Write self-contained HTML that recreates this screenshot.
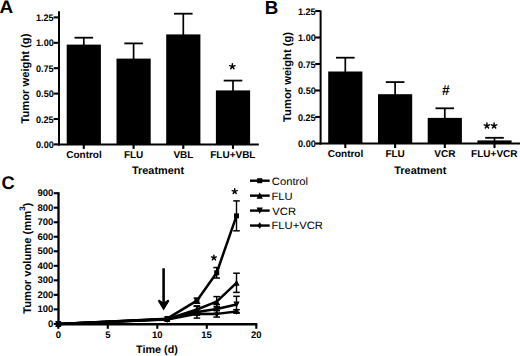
<!DOCTYPE html>
<html><head><meta charset="utf-8"><style>
html,body{margin:0;padding:0;background:#fff;}
body{width:520px;height:356px;overflow:hidden;position:relative;font-family:"Liberation Sans", sans-serif;}
</style></head><body>
<svg width="520" height="356" viewBox="0 0 520 356" style="position:absolute;left:0;top:0">
<g font-family='"Liberation Sans", sans-serif' fill="#000" text-rendering="geometricPrecision">
<line x1="59.00" y1="11.30" x2="59.00" y2="145.40" stroke="#000" stroke-width="2"/>
<line x1="58.00" y1="144.40" x2="258.80" y2="144.40" stroke="#000" stroke-width="2"/>
<line x1="53.60" y1="144.40" x2="59.00" y2="144.40" stroke="#000" stroke-width="2.1"/>
<text transform="translate(36.03,147.98) scale(0.960,1)" font-size="9.5" font-weight="bold">0.00</text>
<line x1="53.60" y1="119.00" x2="59.00" y2="119.00" stroke="#000" stroke-width="2.1"/>
<text transform="translate(35.89,122.58) scale(0.960,1)" font-size="9.5" font-weight="bold">0.25</text>
<line x1="53.60" y1="93.60" x2="59.00" y2="93.60" stroke="#000" stroke-width="2.1"/>
<text transform="translate(36.03,97.18) scale(0.960,1)" font-size="9.5" font-weight="bold">0.50</text>
<line x1="53.60" y1="68.20" x2="59.00" y2="68.20" stroke="#000" stroke-width="2.1"/>
<text transform="translate(35.89,71.78) scale(0.960,1)" font-size="9.5" font-weight="bold">0.75</text>
<line x1="53.60" y1="42.80" x2="59.00" y2="42.80" stroke="#000" stroke-width="2.1"/>
<text transform="translate(36.03,46.38) scale(0.960,1)" font-size="9.5" font-weight="bold">1.00</text>
<line x1="53.60" y1="17.40" x2="59.00" y2="17.40" stroke="#000" stroke-width="2.1"/>
<text transform="translate(35.89,20.98) scale(0.960,1)" font-size="9.5" font-weight="bold">1.25</text>
<rect x="66.70" y="44.60" width="34.20" height="99.80" fill="#000"/>
<line x1="83.80" y1="37.70" x2="83.80" y2="45.60" stroke="#000" stroke-width="1.7"/>
<line x1="74.50" y1="37.70" x2="93.10" y2="37.70" stroke="#000" stroke-width="1.8"/>
<line x1="83.80" y1="144.40" x2="83.80" y2="148.90" stroke="#000" stroke-width="2.1"/>
<text transform="translate(66.20,157.60) scale(1.000,1)" font-size="10.0" font-weight="bold">Control</text>
<rect x="116.50" y="58.60" width="34.20" height="85.80" fill="#000"/>
<line x1="133.60" y1="43.40" x2="133.60" y2="59.60" stroke="#000" stroke-width="1.7"/>
<line x1="124.30" y1="43.40" x2="142.90" y2="43.40" stroke="#000" stroke-width="1.8"/>
<line x1="133.60" y1="144.40" x2="133.60" y2="148.90" stroke="#000" stroke-width="2.1"/>
<text transform="translate(123.88,157.60) scale(1.000,1)" font-size="10.0" font-weight="bold">FLU</text>
<rect x="166.20" y="34.40" width="34.20" height="110.00" fill="#000"/>
<line x1="183.30" y1="13.70" x2="183.30" y2="35.40" stroke="#000" stroke-width="1.7"/>
<line x1="174.00" y1="13.70" x2="192.60" y2="13.70" stroke="#000" stroke-width="1.8"/>
<line x1="183.30" y1="144.40" x2="183.30" y2="148.90" stroke="#000" stroke-width="2.1"/>
<text transform="translate(173.40,157.60) scale(1.000,1)" font-size="10.0" font-weight="bold">VBL</text>
<rect x="215.90" y="90.40" width="34.20" height="54.00" fill="#000"/>
<line x1="233.00" y1="80.60" x2="233.00" y2="91.40" stroke="#000" stroke-width="1.7"/>
<line x1="223.70" y1="80.60" x2="242.30" y2="80.60" stroke="#000" stroke-width="1.8"/>
<line x1="233.00" y1="144.40" x2="233.00" y2="148.90" stroke="#000" stroke-width="2.1"/>
<text transform="translate(210.20,157.60) scale(1.000,1)" font-size="10.0" font-weight="bold">FLU+VBL</text>
<text transform="translate(131.98,174.02) scale(1.000,1)" font-size="10.9" font-weight="bold">Treatment</text>
<g transform="translate(28.70,78.75) rotate(-90)"><text x="-44.80" y="0" font-size="11.2" font-weight="bold">Tumor weight (g)</text></g>
<text transform="translate(-0.47,12.60) scale(1.050,1)" font-size="18.0" font-weight="bold">A</text>
<path d="M232.35,66.50L232.35,63.70M232.35,66.50L235.01,65.63M232.35,66.50L234.00,68.77M232.35,66.50L230.70,68.77M232.35,66.50L229.69,65.63" stroke="#000" stroke-width="1.45" stroke-linecap="round" fill="none"/>
<line x1="320.60" y1="10.50" x2="320.60" y2="144.50" stroke="#000" stroke-width="2"/>
<line x1="319.60" y1="143.50" x2="520.00" y2="143.50" stroke="#000" stroke-width="2"/>
<line x1="315.20" y1="143.50" x2="320.60" y2="143.50" stroke="#000" stroke-width="2.1"/>
<text transform="translate(298.03,147.08) scale(0.960,1)" font-size="9.5" font-weight="bold">0.00</text>
<line x1="315.20" y1="117.00" x2="320.60" y2="117.00" stroke="#000" stroke-width="2.1"/>
<text transform="translate(297.89,120.58) scale(0.960,1)" font-size="9.5" font-weight="bold">0.25</text>
<line x1="315.20" y1="90.50" x2="320.60" y2="90.50" stroke="#000" stroke-width="2.1"/>
<text transform="translate(298.03,94.08) scale(0.960,1)" font-size="9.5" font-weight="bold">0.50</text>
<line x1="315.20" y1="64.00" x2="320.60" y2="64.00" stroke="#000" stroke-width="2.1"/>
<text transform="translate(297.89,67.58) scale(0.960,1)" font-size="9.5" font-weight="bold">0.75</text>
<line x1="315.20" y1="37.50" x2="320.60" y2="37.50" stroke="#000" stroke-width="2.1"/>
<text transform="translate(298.03,41.08) scale(0.960,1)" font-size="9.5" font-weight="bold">1.00</text>
<line x1="315.20" y1="11.00" x2="320.60" y2="11.00" stroke="#000" stroke-width="2.1"/>
<text transform="translate(297.89,14.58) scale(0.960,1)" font-size="9.5" font-weight="bold">1.25</text>
<rect x="328.20" y="71.50" width="34.20" height="72.00" fill="#000"/>
<line x1="345.30" y1="57.70" x2="345.30" y2="72.50" stroke="#000" stroke-width="1.7"/>
<line x1="336.00" y1="57.70" x2="354.60" y2="57.70" stroke="#000" stroke-width="1.8"/>
<line x1="345.30" y1="143.50" x2="345.30" y2="148.00" stroke="#000" stroke-width="2.1"/>
<text transform="translate(327.70,156.80) scale(1.000,1)" font-size="10.0" font-weight="bold">Control</text>
<rect x="378.00" y="94.20" width="34.20" height="49.30" fill="#000"/>
<line x1="395.10" y1="82.10" x2="395.10" y2="95.20" stroke="#000" stroke-width="1.7"/>
<line x1="385.80" y1="82.10" x2="404.40" y2="82.10" stroke="#000" stroke-width="1.8"/>
<line x1="395.10" y1="143.50" x2="395.10" y2="148.00" stroke="#000" stroke-width="2.1"/>
<text transform="translate(385.38,156.80) scale(1.000,1)" font-size="10.0" font-weight="bold">FLU</text>
<rect x="427.70" y="117.90" width="34.20" height="25.60" fill="#000"/>
<line x1="444.80" y1="108.30" x2="444.80" y2="118.90" stroke="#000" stroke-width="1.7"/>
<line x1="435.50" y1="108.30" x2="454.10" y2="108.30" stroke="#000" stroke-width="1.8"/>
<line x1="444.80" y1="143.50" x2="444.80" y2="148.00" stroke="#000" stroke-width="2.1"/>
<text transform="translate(434.30,156.80) scale(1.000,1)" font-size="10.0" font-weight="bold">VCR</text>
<rect x="477.40" y="140.40" width="34.20" height="3.10" fill="#000"/>
<line x1="494.50" y1="137.80" x2="494.50" y2="141.40" stroke="#000" stroke-width="1.7"/>
<line x1="485.20" y1="137.80" x2="503.80" y2="137.80" stroke="#000" stroke-width="1.8"/>
<line x1="494.50" y1="143.50" x2="494.50" y2="148.00" stroke="#000" stroke-width="2.1"/>
<text transform="translate(471.10,156.80) scale(1.000,1)" font-size="10.0" font-weight="bold">FLU+VCR</text>
<text transform="translate(394.28,173.52) scale(1.000,1)" font-size="10.9" font-weight="bold">Treatment</text>
<g transform="translate(290.70,77.10) rotate(-90)"><text x="-44.80" y="0" font-size="11.2" font-weight="bold">Tumor weight (g)</text></g>
<text transform="translate(264.78,14.40) scale(1.000,1)" font-size="18.8" font-weight="bold">B</text>
<text transform="translate(442.03,94.76) scale(0.970,1)" font-size="14.2" font-weight="bold">#</text>
<path d="M486.90,125.70L486.90,122.90M486.90,125.70L489.56,124.83M486.90,125.70L488.55,127.97M486.90,125.70L485.25,127.97M486.90,125.70L484.24,124.83" stroke="#000" stroke-width="1.45" stroke-linecap="round" fill="none"/>
<path d="M494.10,125.70L494.10,122.90M494.10,125.70L496.76,124.83M494.10,125.70L495.75,127.97M494.10,125.70L492.45,127.97M494.10,125.70L491.44,124.83" stroke="#000" stroke-width="1.45" stroke-linecap="round" fill="none"/>
<line x1="58.50" y1="192.20" x2="58.50" y2="325.20" stroke="#000" stroke-width="2.3"/>
<line x1="57.50" y1="324.20" x2="257.30" y2="324.20" stroke="#000" stroke-width="2.4"/>
<line x1="53.70" y1="323.90" x2="58.50" y2="323.90" stroke="#000" stroke-width="2.1"/>
<text transform="translate(48.01,326.98) scale(1.000,1)" font-size="9.5" font-weight="bold">0</text>
<line x1="53.70" y1="309.38" x2="58.50" y2="309.38" stroke="#000" stroke-width="2.1"/>
<text transform="translate(37.46,312.46) scale(1.000,1)" font-size="9.5" font-weight="bold">100</text>
<line x1="53.70" y1="294.86" x2="58.50" y2="294.86" stroke="#000" stroke-width="2.1"/>
<text transform="translate(37.46,297.93) scale(1.000,1)" font-size="9.5" font-weight="bold">200</text>
<line x1="53.70" y1="280.33" x2="58.50" y2="280.33" stroke="#000" stroke-width="2.1"/>
<text transform="translate(37.46,283.41) scale(1.000,1)" font-size="9.5" font-weight="bold">300</text>
<line x1="53.70" y1="265.81" x2="58.50" y2="265.81" stroke="#000" stroke-width="2.1"/>
<text transform="translate(37.46,268.89) scale(1.000,1)" font-size="9.5" font-weight="bold">400</text>
<line x1="53.70" y1="251.29" x2="58.50" y2="251.29" stroke="#000" stroke-width="2.1"/>
<text transform="translate(37.46,254.37) scale(1.000,1)" font-size="9.5" font-weight="bold">500</text>
<line x1="53.70" y1="236.77" x2="58.50" y2="236.77" stroke="#000" stroke-width="2.1"/>
<text transform="translate(37.46,239.85) scale(1.000,1)" font-size="9.5" font-weight="bold">600</text>
<line x1="53.70" y1="222.25" x2="58.50" y2="222.25" stroke="#000" stroke-width="2.1"/>
<text transform="translate(37.46,225.32) scale(1.000,1)" font-size="9.5" font-weight="bold">700</text>
<line x1="53.70" y1="207.72" x2="58.50" y2="207.72" stroke="#000" stroke-width="2.1"/>
<text transform="translate(37.46,210.80) scale(1.000,1)" font-size="9.5" font-weight="bold">800</text>
<line x1="53.70" y1="193.20" x2="58.50" y2="193.20" stroke="#000" stroke-width="2.1"/>
<text transform="translate(37.46,196.28) scale(1.000,1)" font-size="9.5" font-weight="bold">900</text>
<line x1="58.30" y1="324.20" x2="58.30" y2="328.80" stroke="#000" stroke-width="2.1"/>
<text transform="translate(55.66,338.45) scale(1.000,1)" font-size="9.5" font-weight="bold">0</text>
<line x1="107.80" y1="324.20" x2="107.80" y2="328.80" stroke="#000" stroke-width="2.1"/>
<text transform="translate(105.14,338.36) scale(1.000,1)" font-size="9.5" font-weight="bold">5</text>
<line x1="157.30" y1="324.20" x2="157.30" y2="328.80" stroke="#000" stroke-width="2.1"/>
<text transform="translate(151.91,338.45) scale(1.000,1)" font-size="9.5" font-weight="bold">10</text>
<line x1="206.80" y1="324.20" x2="206.80" y2="328.80" stroke="#000" stroke-width="2.1"/>
<text transform="translate(201.34,338.36) scale(1.000,1)" font-size="9.5" font-weight="bold">15</text>
<line x1="256.30" y1="324.20" x2="256.30" y2="328.80" stroke="#000" stroke-width="2.1"/>
<text transform="translate(251.05,338.45) scale(1.000,1)" font-size="9.5" font-weight="bold">20</text>
<text transform="translate(136.04,352.90) scale(1.000,1)" font-size="10.8" font-weight="bold">Time (d)</text>
<g transform="translate(30.7,313.7) rotate(-90)"><text x="-0.11" y="0" font-size="11.2" font-weight="bold">Tumor volume (mm<tspan font-size="8" dy="-5.4">3</tspan><tspan dy="5.4">)</tspan></text></g>
<text transform="translate(1.47,189.10) scale(1.000,1)" font-size="18.3" font-weight="bold">C</text>
<polyline points="58.30,323.90 167.20,318.67 196.90,300.66 216.70,272.78 236.50,215.86" fill="none" stroke="#000" stroke-width="2.5" stroke-linejoin="round"/>
<rect x="55.80" y="321.40" width="5" height="5" fill="#000"/>
<rect x="164.70" y="316.17" width="5" height="5" fill="#000"/>
<line x1="196.90" y1="298.05" x2="196.90" y2="303.28" stroke="#000" stroke-width="1.4"/>
<line x1="193.60" y1="298.05" x2="200.20" y2="298.05" stroke="#000" stroke-width="1.5"/>
<line x1="193.60" y1="303.28" x2="200.20" y2="303.28" stroke="#000" stroke-width="1.5"/>
<rect x="194.40" y="298.16" width="5" height="5" fill="#000"/>
<line x1="216.70" y1="267.55" x2="216.70" y2="278.01" stroke="#000" stroke-width="1.4"/>
<line x1="213.40" y1="267.55" x2="220.00" y2="267.55" stroke="#000" stroke-width="1.5"/>
<line x1="213.40" y1="278.01" x2="220.00" y2="278.01" stroke="#000" stroke-width="1.5"/>
<rect x="214.20" y="270.28" width="5" height="5" fill="#000"/>
<line x1="236.50" y1="200.90" x2="236.50" y2="230.81" stroke="#000" stroke-width="1.4"/>
<line x1="233.20" y1="200.90" x2="239.80" y2="200.90" stroke="#000" stroke-width="1.5"/>
<line x1="233.20" y1="230.81" x2="239.80" y2="230.81" stroke="#000" stroke-width="1.5"/>
<rect x="234.00" y="213.36" width="5" height="5" fill="#000"/>
<polyline points="58.30,323.90 167.20,319.11 196.90,309.52 216.70,301.68 236.50,282.80" fill="none" stroke="#000" stroke-width="2.5" stroke-linejoin="round"/>
<polygon points="58.30,320.50 61.40,326.90 55.20,326.90" fill="#000"/>
<polygon points="167.20,315.71 170.30,322.11 164.10,322.11" fill="#000"/>
<line x1="196.90" y1="306.33" x2="196.90" y2="312.72" stroke="#000" stroke-width="1.4"/>
<line x1="193.60" y1="306.33" x2="200.20" y2="306.33" stroke="#000" stroke-width="1.5"/>
<line x1="193.60" y1="312.72" x2="200.20" y2="312.72" stroke="#000" stroke-width="1.5"/>
<polygon points="196.90,306.12 200.00,312.52 193.80,312.52" fill="#000"/>
<line x1="216.70" y1="296.60" x2="216.70" y2="306.76" stroke="#000" stroke-width="1.4"/>
<line x1="213.40" y1="296.60" x2="220.00" y2="296.60" stroke="#000" stroke-width="1.5"/>
<line x1="213.40" y1="306.76" x2="220.00" y2="306.76" stroke="#000" stroke-width="1.5"/>
<polygon points="216.70,298.28 219.80,304.68 213.60,304.68" fill="#000"/>
<line x1="236.50" y1="273.22" x2="236.50" y2="292.39" stroke="#000" stroke-width="1.4"/>
<line x1="233.20" y1="273.22" x2="239.80" y2="273.22" stroke="#000" stroke-width="1.5"/>
<line x1="233.20" y1="292.39" x2="239.80" y2="292.39" stroke="#000" stroke-width="1.5"/>
<polygon points="236.50,279.40 239.60,285.80 233.40,285.80" fill="#000"/>
<polyline points="58.30,323.90 167.20,319.25 196.90,311.99 216.70,308.94 236.50,304.44" fill="none" stroke="#000" stroke-width="2.5" stroke-linejoin="round"/>
<polygon points="58.30,327.30 61.40,320.90 55.20,320.90" fill="#000"/>
<polygon points="167.20,322.65 170.30,316.25 164.10,316.25" fill="#000"/>
<line x1="196.90" y1="305.89" x2="196.90" y2="318.09" stroke="#000" stroke-width="1.4"/>
<line x1="193.60" y1="305.89" x2="200.20" y2="305.89" stroke="#000" stroke-width="1.5"/>
<line x1="193.60" y1="318.09" x2="200.20" y2="318.09" stroke="#000" stroke-width="1.5"/>
<polygon points="196.90,315.39 200.00,308.99 193.80,308.99" fill="#000"/>
<line x1="216.70" y1="304.59" x2="216.70" y2="313.30" stroke="#000" stroke-width="1.4"/>
<line x1="213.40" y1="304.59" x2="220.00" y2="304.59" stroke="#000" stroke-width="1.5"/>
<line x1="213.40" y1="313.30" x2="220.00" y2="313.30" stroke="#000" stroke-width="1.5"/>
<polygon points="216.70,312.34 219.80,305.94 213.60,305.94" fill="#000"/>
<line x1="236.50" y1="296.31" x2="236.50" y2="312.57" stroke="#000" stroke-width="1.4"/>
<line x1="233.20" y1="296.31" x2="239.80" y2="296.31" stroke="#000" stroke-width="1.5"/>
<line x1="233.20" y1="312.57" x2="239.80" y2="312.57" stroke="#000" stroke-width="1.5"/>
<polygon points="236.50,307.84 239.60,301.44 233.40,301.44" fill="#000"/>
<polyline points="58.30,323.90 167.20,319.54 196.90,313.73 216.70,313.88 236.50,311.41" fill="none" stroke="#000" stroke-width="2.5" stroke-linejoin="round"/>
<polygon points="58.30,320.60 60.60,323.90 58.30,327.20 56.00,323.90" fill="#000"/>
<polygon points="167.20,316.24 169.50,319.54 167.20,322.84 164.90,319.54" fill="#000"/>
<line x1="196.90" y1="312.28" x2="196.90" y2="315.19" stroke="#000" stroke-width="1.4"/>
<line x1="193.60" y1="312.28" x2="200.20" y2="312.28" stroke="#000" stroke-width="1.5"/>
<line x1="193.60" y1="315.19" x2="200.20" y2="315.19" stroke="#000" stroke-width="1.5"/>
<polygon points="196.90,310.43 199.20,313.73 196.90,317.03 194.60,313.73" fill="#000"/>
<line x1="216.70" y1="310.68" x2="216.70" y2="317.07" stroke="#000" stroke-width="1.4"/>
<line x1="213.40" y1="310.68" x2="220.00" y2="310.68" stroke="#000" stroke-width="1.5"/>
<line x1="213.40" y1="317.07" x2="220.00" y2="317.07" stroke="#000" stroke-width="1.5"/>
<polygon points="216.70,310.58 219.00,313.88 216.70,317.18 214.40,313.88" fill="#000"/>
<line x1="236.50" y1="309.67" x2="236.50" y2="313.15" stroke="#000" stroke-width="1.4"/>
<line x1="233.20" y1="309.67" x2="239.80" y2="309.67" stroke="#000" stroke-width="1.5"/>
<line x1="233.20" y1="313.15" x2="239.80" y2="313.15" stroke="#000" stroke-width="1.5"/>
<polygon points="236.50,308.11 238.80,311.41 236.50,314.71 234.20,311.41" fill="#000"/>
<path d="M234.70,191.40L234.70,188.80M234.70,191.40L237.17,190.60M234.70,191.40L236.23,193.50M234.70,191.40L233.17,193.50M234.70,191.40L232.23,190.60" stroke="#000" stroke-width="1.45" stroke-linecap="round" fill="none"/>
<path d="M213.90,257.70L213.90,255.10M213.90,257.70L216.37,256.90M213.90,257.70L215.43,259.80M213.90,257.70L212.37,259.80M213.90,257.70L211.43,256.90" stroke="#000" stroke-width="1.45" stroke-linecap="round" fill="none"/>
<line x1="163.60" y1="268.30" x2="163.60" y2="303.00" stroke="#000" stroke-width="2.6"/>
<polygon points="157.8,301.1 159.1,299.6 163.6,302.8 168.1,299.6 169.4,301.1 163.6,310.4" fill="#000"/>
<line x1="250.00" y1="180.70" x2="269.70" y2="180.70" stroke="#000" stroke-width="2.4"/>
<rect x="257.20" y="178.20" width="5" height="5" fill="#000"/>
<text transform="translate(271.84,184.60) scale(1.060,1)" font-size="10.6" font-weight="normal">Control</text>
<line x1="250.00" y1="195.65" x2="269.70" y2="195.65" stroke="#000" stroke-width="2.4"/>
<polygon points="259.70,192.25 262.80,198.65 256.60,198.65" fill="#000"/>
<text transform="translate(271.50,199.55) scale(1.060,1)" font-size="10.6" font-weight="normal">FLU</text>
<line x1="250.00" y1="210.60" x2="269.70" y2="210.60" stroke="#000" stroke-width="2.4"/>
<polygon points="259.70,214.00 262.80,207.60 256.60,207.60" fill="#000"/>
<text transform="translate(272.34,214.50) scale(1.060,1)" font-size="10.6" font-weight="normal">VCR</text>
<line x1="250.00" y1="225.55" x2="269.70" y2="225.55" stroke="#000" stroke-width="2.4"/>
<polygon points="259.70,222.25 262.00,225.55 259.70,228.85 257.40,225.55" fill="#000"/>
<text transform="translate(271.50,229.45) scale(1.060,1)" font-size="10.6" font-weight="normal">FLU+VCR</text>
</g></svg>
</body></html>
